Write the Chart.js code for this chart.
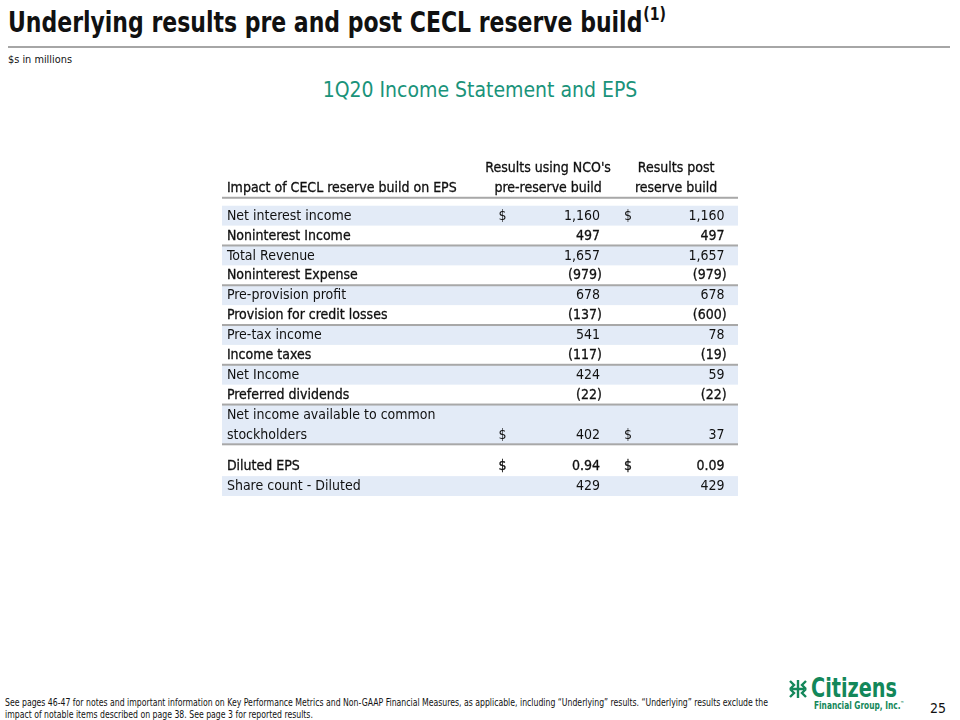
<!DOCTYPE html>
<html>
<head>
<meta charset="utf-8">
<script src="https://cdn.jsdelivr.net/npm/chart.js@4.4.1/dist/chart.umd.min.js"></script>
<style>
  body { margin: 0; width: 960px; height: 720px; position: relative; background: #fff; overflow: hidden;
         font-family: "DejaVu Sans Condensed", "DejaVu Sans", sans-serif; color: #111; }
  .abs { position: absolute; white-space: nowrap; transform-origin: 0 0; }
  #title { left: 8px; top: 5px; font-size: 28px; font-weight: bold; line-height: 36px; }
  #title sup { font-size: 18px; font-weight: bold; vertical-align: 12px; line-height: 0; margin-left: 1px; }
  #rule { left: 8px; top: 46px; width: 942px; height: 2px; background: #a6a6a6; }
  #units { left: 8px; top: 53px; font-size: 10.5px; }
  #subtitle { left: 0; width: 960px; top: 78px; text-align: center; font-size: 21px; color: #1a937a; }
  #table { left: 222px; top: 158px; }
  #footer { left: 5px; top: 697px; font-size: 10px; line-height: 12px; }
  #logo-mark { left: 788px; top: 679px; }
  #logo-name { left: 811px; top: 673px; font-size: 27px; line-height: 30px; font-weight: bold; color: #13875a; }
  #logo-sub { left: 814px; top: 699px; font-size: 10.5px; font-weight: bold; color: #13875a; }
  #logo-sub sup { font-size: 5px; }
  #page { left: 930px; top: 700px; font-size: 14px; }
</style>
</head>
<body>
<div id="title" class="abs" data-w="658">Underlying results pre and post CECL reserve build<sup>(1)</sup></div>
<div id="rule" class="abs"></div>
<div id="units" class="abs" data-w="64">$s in millions</div>
<div id="subtitle" class="abs">1Q20 Income Statement and EPS</div>
<div id="table" class="abs"><canvas id="chart" width="516" height="338"></canvas></div>
<div id="footer" class="abs" data-w="763">See pages 46-47 for notes and important information on Key Performance Metrics and Non-GAAP Financial Measures, as applicable, including “Underlying” results. “Underlying” results exclude the<br>impact of notable items described on page 38. See page 3 for reported results.</div>
<svg id="logo-mark" class="abs" width="20" height="20" viewBox="0 0 20 20" fill="none" stroke="#13875a" stroke-width="2.4">
  <path d="M2 2 L6 6 L2 10 M18 2 L14 6 L18 10 M2 10 L6 14 L2 18 M18 10 L14 14 L18 18 M10 1 L10 19 M4 10 L16 10"/>
</svg>
<div id="logo-name" class="abs" data-w="86">Citizens</div>
<div id="logo-sub" class="abs" data-w="90">Financial Group, Inc.<sup>™</sup></div>
<div id="page" class="abs">25</div>
<script>
// table content
const stubHeader = "Impact of CECL reserve build on EPS";
const columnHeaders = [["Results using NCO's", "pre-reserve build"], ["Results post", "reserve build"]];
const rowLabels = [
  ["Net interest income"],
  ["Noninterest Income"],
  ["Total Revenue"],
  ["Noninterest Expense"],
  ["Pre-provision profit"],
  ["Provision for credit losses"],
  ["Pre-tax income"],
  ["Income taxes"],
  ["Net Income"],
  ["Preferred dividends"],
  ["Net income available to common", "stockholders"],
  ["Diluted EPS"],
  ["Share count - Diluted"]
];
const preReserve = [1160, 497, 1657, -979, 678, -137, 541, -117, 424, -22, 402, 0.94, 429];
const postReserve = [1160, 497, 1657, -979, 678, -600, 78, -19, 59, -22, 37, 0.09, 429];
const dollarRows = [0, 10, 11];

// layout / style (not data)
const shadedRows = [0, 2, 4, 6, 8, 10, 12];
const ruleAfter = [1, 3, 5, 7, 9, 10];
const heavyRows = [1, 3, 5, 7, 9, 11];
const sectionBreakBefore = 11;
const cols = { label: 0.0095, dollar1: 0.536, value1: 0.7325, dollar2: 0.779, value2: 0.974, head1: 0.632, head2: 0.88 };

// squeeze condensed slide text to its measured width
document.querySelectorAll("[data-w]").forEach(el => {
  const w = el.getBoundingClientRect().width;
  el.style.transform = "scaleX(" + (Number(el.dataset.w) / w) + ")";
});

function fmt(v) {
  const dec = Number.isInteger(v) ? 0 : 2;
  const s = Math.abs(v).toLocaleString("en-US", { minimumFractionDigits: dec, maximumFractionDigits: dec });
  return v < 0 ? "(" + s + ")" : s;
}

const rowTops = [];
let pos = 2.4;
rowLabels.forEach((lines, i) => {
  if (i === sectionBreakBefore) pos += 0.6;
  rowTops.push(pos);
  pos += lines.length;
});

const tablePlugin = {
  id: "statementTable",
  afterDraw(chart) {
    const { ctx, scales: { x, y } } = chart;
    const left = x.getPixelForValue(0), right = x.getPixelForValue(1);
    ctx.save();
    ctx.font = '14px "DejaVu Sans Condensed", "DejaVu Sans", sans-serif';
    ctx.textBaseline = "middle";

    function text(str, vx, vy, align, heavy) {
      ctx.textAlign = align;
      const px = x.getPixelForValue(vx), py = y.getPixelForValue(vy) + 0.5;
      ctx.fillText(str, px, py);
      if (heavy) {
        ctx.lineWidth = 0.3;
        ctx.strokeStyle = "#111";
        ctx.strokeText(str, px, py);
      }
    }

    // shading
    ctx.fillStyle = "#e3ebf7";
    shadedRows.forEach(i => {
      const top = y.getPixelForValue(rowTops[i]);
      const bottom = y.getPixelForValue(rowTops[i] + rowLabels[i].length);
      ctx.fillRect(left, top, right - left, bottom - top);
    });

    // rules
    ctx.fillStyle = "#a8a8a8";
    ctx.fillRect(left, y.getPixelForValue(2) - 1, right - left, 2);
    ruleAfter.forEach(i => {
      const yy = y.getPixelForValue(rowTops[i] + rowLabels[i].length);
      ctx.fillRect(left, yy - 1, right - left, 2);
    });

    ctx.fillStyle = "#111";
    // header
    text(stubHeader, cols.label, 1.5, "left", true);
    columnHeaders[0].forEach((l, k) => text(l, cols.head1, 0.5 + k, "center", true));
    columnHeaders[1].forEach((l, k) => text(l, cols.head2, 0.5 + k, "center", true));

    // rows
    const hang = 2 / (right - left);
    rowLabels.forEach((lines, i) => {
      const heavy = heavyRows.includes(i);
      lines.forEach((l, k) => text(l, cols.label, rowTops[i] + k + 0.5, "left", heavy));
      const vy = rowTops[i] + lines.length - 0.5;
      if (dollarRows.includes(i)) {
        text("$", cols.dollar1, vy, "left", heavy);
        text("$", cols.dollar2, vy, "left", heavy);
      }
      text(fmt(preReserve[i]), cols.value1 + (preReserve[i] < 0 ? hang : 0), vy, "right", heavy);
      text(fmt(postReserve[i]), cols.value2 + (postReserve[i] < 0 ? hang : 0), vy, "right", heavy);
    });
    ctx.restore();
  }
};

new Chart(document.getElementById("chart").getContext("2d"), {
  type: "scatter",
  data: { datasets: [] },
  options: {
    responsive: false,
    animation: false,
    layout: { padding: 0 },
    scales: {
      x: { type: "linear", min: 0, max: 1, display: false },
      y: { type: "linear", min: 0, max: 17, reverse: true, display: false }
    },
    plugins: { legend: { display: false }, tooltip: { enabled: false } }
  },
  plugins: [tablePlugin]
});
</script>
</body>
</html>
